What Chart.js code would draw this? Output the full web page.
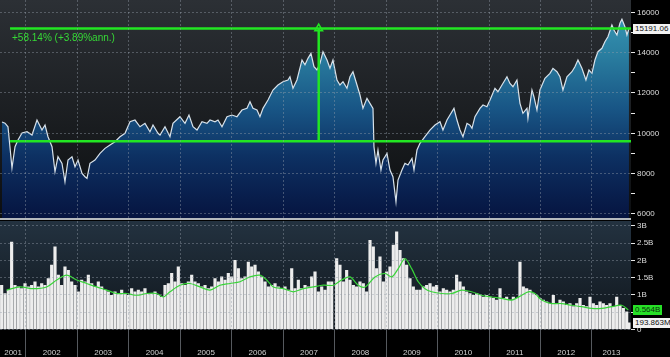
<!DOCTYPE html>
<html><head><meta charset="utf-8">
<script src="https://cdn.jsdelivr.net/npm/chart.js@4.4.1/dist/chart.umd.min.js"></script>
<style>
html,body{margin:0;padding:0;background:#000;}
#wrap{position:relative;width:670px;height:357px;overflow:hidden;background:#000;}
#cTop{position:absolute;left:0;top:0;}
#cBot{position:absolute;left:0;top:220px;}
#sep{position:absolute;left:0;top:218px;width:631px;height:2px;background:#b4b8bd;}
.lbl{position:absolute;font:8px "Liberation Sans",Arial,sans-serif;line-height:10px;height:10px;padding:0 2px;white-space:nowrap;}
#pct{position:absolute;font:10px "Liberation Sans",Arial,sans-serif;line-height:12px;color:#36d936;white-space:nowrap;}
</style>
</head><body>
<div id="wrap">
  <canvas id="cTop" width="670" height="218"></canvas>
  <div id="sep"></div>
  <canvas id="cBot" width="670" height="137"></canvas>
  <div id="pct">+58.14% (+3.89%ann.)</div>
  <div class="lbl" id="lastPx" style="background:#f2f2f2;color:#111;">15191.06</div>
  <div class="lbl" id="lastMa" style="background:#27e027;color:#0b300b;">0.564B</div>
  <div class="lbl" id="lastVol" style="background:#f2f2f2;color:#111;">193.863M</div>
</div>
<script>
// ---------- data ----------
const priceYears = [
 2001.534,2001.592,2001.650,2001.728,2001.787,2001.845,2001.923,2002.020,2002.117,
 2002.214,2002.311,2002.370,2002.428,2002.506,2002.564,2002.622,2002.700,2002.758,2002.817,2002.894,2002.953,
 2003.011,2003.089,2003.147,2003.186,2003.244,2003.341,2003.439,2003.536,2003.633,2003.730,2003.827,2003.925,
 2004.022,2004.119,2004.216,2004.313,2004.410,2004.469,2004.566,2004.605,2004.702,2004.799,2004.857,
 2004.993,2005.091,2005.168,2005.246,2005.324,2005.421,2005.518,2005.577,2005.674,2005.732,2005.810,2005.907,
 2006.004,2006.101,2006.198,2006.296,2006.354,2006.412,2006.490,2006.548,2006.607,2006.704,2006.801,2006.898,2006.995,
 2007.093,2007.131,2007.190,2007.267,2007.365,2007.423,2007.481,2007.539,2007.598,2007.656,2007.715,2007.773,2007.851,2007.909,2007.967,
 2008.045,2008.103,2008.162,2008.239,2008.298,2008.356,2008.434,2008.492,2008.550,2008.628,2008.686,2008.745,2008.764,2008.803,2008.842,2008.900,2008.939,
 2009.017,2009.075,2009.133,2009.192,2009.231,2009.308,2009.366,2009.425,2009.503,2009.542,2009.600,2009.658,2009.755,2009.852,2009.950,
 2010.047,2010.105,2010.183,2010.241,2010.319,2010.377,2010.436,2010.494,2010.572,2010.630,2010.669,2010.727,2010.824,2010.883,2010.960,
 2011.019,2011.116,2011.174,2011.252,2011.349,2011.407,2011.466,2011.543,2011.602,2011.660,2011.738,2011.757,2011.835,2011.873,2011.932,
 2011.990,2012.087,2012.185,2012.243,2012.321,2012.379,2012.437,2012.515,2012.612,2012.670,2012.729,2012.806,2012.884,2012.943,
 2013.001,2013.059,2013.118,2013.195,2013.253,2013.312,2013.389,2013.428,2013.487,2013.545,2013.584,2013.642,2013.681,2013.720
];
const priceValues = [
 10559,10500,10325,8277,9334,9666,10013,10078,9914,
 10658,10162,10410,9830,9334,8094,8838,8510,7597,8674,8838,8342,
 8674,8014,7846,7767,8510,8674,9007,9254,9418,9582,9830,9998,
 10574,10658,10325,10494,10078,10410,10000,9914,10325,9830,10494,
 10822,10494,10906,10325,10162,10574,10494,10658,10574,10658,10325,10822,
 10906,10822,11154,11238,11566,11238,11154,10822,11238,11650,12146,12394,12558,
 12642,12806,12230,12642,13634,13400,13718,13966,13302,13138,13470,14046,13634,13222,13634,
 12642,12394,12558,12230,12806,13054,12394,11898,11238,11734,11486,11238,9334,8510,9170,8178,8674,
 9007,8178,7846,6606,7682,8178,8510,8426,8758,8178,9170,9502,9830,10162,10410,
 10574,10162,10658,10906,11238,10658,10162,9830,10494,10400,10246,10822,11238,11402,11318,
 11650,12230,12062,12394,12806,12474,12310,12642,11486,10990,11238,10742,12146,11814,11154,
 12146,12723,12974,13222,13054,12806,12146,12806,13054,13302,13634,13222,12642,13138,
 12974,13634,14046,14214,14542,14790,15370,15122,14874,15454,15652,15286,14874,15191.06
];
const volYears = [
 2001.527,2001.592,2001.657,2001.721,2001.786,2001.851,2001.916,2001.981,2002.045,2002.110,
 2002.175,2002.240,2002.305,2002.369,2002.434,2002.499,2002.564,2002.629,2002.693,2002.758,
 2002.823,2002.888,2002.953,2003.017,2003.082,2003.147,2003.212,2003.277,2003.341,2003.406,
 2003.471,2003.536,2003.601,2003.665,2003.730,2003.795,2003.860,2003.925,2003.989,2004.054,
 2004.119,2004.184,2004.249,2004.313,2004.378,2004.443,2004.508,2004.573,2004.637,2004.702,
 2004.767,2004.832,2004.897,2004.961,2005.026,2005.091,2005.156,2005.221,2005.285,2005.350,
 2005.415,2005.480,2005.545,2005.609,2005.674,2005.739,2005.804,2005.869,2005.933,2005.998,
 2006.063,2006.128,2006.193,2006.257,2006.322,2006.387,2006.452,2006.517,2006.581,2006.646,
 2006.711,2006.776,2006.841,2006.905,2006.970,2007.035,2007.100,2007.165,2007.229,2007.294,
 2007.359,2007.424,2007.489,2007.553,2007.618,2007.683,2007.748,2007.813,2007.877,2007.942,
 2008.039,2008.103,2008.168,2008.233,2008.298,2008.363,2008.427,2008.492,2008.557,2008.622,
 2008.687,2008.751,2008.816,2008.881,2008.946,2009.011,2009.075,2009.140,2009.205,2009.270,
 2009.334,2009.399,2009.464,2009.529,2009.594,2009.659,2009.723,2009.788,2009.853,2009.918,
 2009.982,2010.047,2010.112,2010.177,2010.242,2010.306,2010.371,2010.436,2010.501,2010.566,
 2010.630,2010.695,2010.760,2010.825,2010.890,2010.954,2011.019,2011.084,2011.149,2011.214,
 2011.278,2011.343,2011.408,2011.473,2011.538,2011.602,2011.667,2011.732,2011.797,2011.862,
 2011.926,2011.991,2012.056,2012.121,2012.185,2012.250,2012.315,2012.380,2012.445,2012.510,
 2012.574,2012.639,2012.704,2012.769,2012.834,2012.898,2012.963,2013.028,2013.093,2013.158,
 2013.222,2013.287,2013.352,2013.417,2013.482,2013.546,2013.611,2013.676,2013.720
];
const volValues = [ // billions
 1.28,1.04,1.14,2.53,1.28,1.23,1.18,1.33,1.23,1.28,
 1.38,1.23,1.33,1.28,1.47,1.86,2.39,1.57,1.28,1.81,
 1.71,1.38,1.28,1.09,1.43,1.38,1.57,1.33,1.23,1.38,
 1.23,1.14,1.09,0.99,1.09,1.04,1.14,1.04,0.99,1.18,
 1.09,1.14,1.09,1.18,1.04,1.04,1.09,0.99,0.94,1.28,
 1.33,1.62,1.38,1.81,1.33,1.28,1.38,1.57,1.38,1.33,
 1.23,1.28,1.18,1.23,1.47,1.38,1.52,1.43,1.62,1.52,
 2.00,1.76,1.47,1.52,1.95,1.81,1.86,1.67,1.52,1.38,
 1.23,1.28,1.33,1.23,1.18,1.23,1.14,1.76,1.18,1.43,
 1.18,1.28,1.23,1.52,1.67,1.09,1.23,1.14,1.38,1.38,
 2.05,1.86,1.38,1.71,1.43,1.28,1.23,1.38,1.33,1.09,
 2.58,2.39,1.76,2.10,1.38,1.67,1.81,2.44,2.82,2.29,
 2.05,1.86,1.47,1.23,1.14,1.14,1.23,1.28,1.33,1.23,
 1.28,1.09,1.18,1.14,1.09,1.14,1.57,1.38,1.23,1.09,
 1.04,0.99,1.04,0.99,0.94,0.99,0.94,0.90,0.85,1.18,
 0.90,0.94,0.85,0.94,0.90,1.95,1.23,1.18,1.14,1.04,
 0.99,0.90,0.85,0.80,0.75,0.99,0.75,0.85,0.80,0.70,
 0.75,0.66,0.75,0.90,0.70,0.66,0.94,0.75,0.70,0.80,
 0.75,0.70,0.75,0.66,0.94,0.70,0.61,0.51,0.194
];
const maYears = [
 2001.625,2001.884,2002.143,2002.402,2002.597,2002.791,2002.986,2003.180,2003.374,2003.569,
 2003.763,2003.957,2004.152,2004.346,2004.541,2004.669,2004.799,2004.993,2005.188,2005.382,
 2005.577,2005.771,2005.965,2006.160,2006.354,2006.548,2006.678,2006.807,2007.002,2007.196,
 2007.390,2007.585,2007.779,2007.973,
 2008.136,2008.298,2008.459,2008.589,2008.784,2008.978,2009.108,2009.236,2009.366,2009.497,
 2009.625,2009.755,2009.885,2010.080,2010.274,2010.469,2010.663,2010.857,2011.052,2011.246,
 2011.440,2011.635,2011.763,2011.893,2012.023,2012.218,2012.412,2012.606,2012.801,2012.995,
 2013.190,2013.384,2013.578,2013.707
];
const maValues = [
 1.14,1.23,1.18,1.23,1.43,1.57,1.43,1.33,1.23,1.14,
 1.04,1.04,0.99,1.04,1.04,0.94,1.09,1.28,1.33,1.23,
 1.14,1.28,1.33,1.38,1.52,1.57,1.43,1.23,1.18,1.09,
 1.18,1.23,1.28,1.28,
 1.43,1.52,1.28,1.23,1.52,1.62,1.52,1.76,2.05,1.76,
 1.38,1.18,1.09,1.04,1.04,1.14,1.09,0.99,0.94,0.90,
 0.85,0.99,1.09,1.04,0.85,0.75,0.75,0.70,0.66,0.61,
 0.61,0.66,0.70,0.564
];
const highLevel = 15191.06;
const lowLevel = 9606.3;
const lineStartYear = 2001.69;
const arrowYear = 2007.69;
const lastVolume = 0.194;
const yearBounds = [2002,2003,2004,2005,2006,2007,2008,2009,2010,2011,2012,2013];
const yearLabelPos = [2001.75,2002.5,2003.5,2004.5,2005.5,2006.5,2007.5,2008.5,2009.5,2010.5,2011.5,2012.5,2013.38];
const yearLabels = ['2001','2002','2003','2004','2005','2006','2007','2008','2009','2010','2011','2012','2013'];
const priceTicks = [6000,7000,8000,9000,10000,11000,12000,13000,14000,15000,16000];
const volTicks = [0,0.5,1,1.5,2,2.5,3];
const volTickLabels = ['0','','1B','1.5B','2B','2.5B','3B'];

// ---------- styling ----------
const X_MIN = 2001.495, X_MAX = 2013.76;
const GREEN = '#22e622';
const GRID = 'rgba(150,160,172,0.42)';
const FONT = '"Liberation Sans", Arial, sans-serif';
Chart.defaults.font.family = FONT;

const bgPlugin = (top, bottom) => ({
  id: 'bg',
  beforeDraw(chart) {
    const {ctx, chartArea: a, width, height} = chart;
    ctx.save();
    ctx.fillStyle = '#000';
    ctx.fillRect(0, 0, width, height);
    const g = ctx.createLinearGradient(0, a.top, 0, a.bottom);
    g.addColorStop(0, top); g.addColorStop(1, bottom);
    ctx.fillStyle = g;
    ctx.fillRect(a.left, a.top, a.right - a.left, a.bottom - a.top);
    ctx.restore();
  }
});

function areaFill(context) {
  const {chart} = context;
  const a = chart.chartArea;
  if (!a) return 'rgba(30,90,130,1)';
  const g = chart.ctx.createLinearGradient(0, a.top, 0, a.bottom);
  g.addColorStop(0, '#3a9dbb');
  g.addColorStop(0.25, '#2a7ea0');
  g.addColorStop(0.5, '#185585');
  g.addColorStop(0.72, '#0d3062');
  g.addColorStop(1, '#061440');
  return g;
}

const setTicks = (arr) => (s) => { s.ticks = arr.map(v => ({value: v})); };
const noPad = (s) => { s.paddingLeft = 0; s.paddingRight = 0; s.paddingTop = 0; s.paddingBottom = 0; };

const topChart = new Chart(document.getElementById('cTop'), {
  type: 'line',
  data: { datasets: [
    { data: priceYears.map((x, i) => ({x, y: priceValues[i]})), borderColor: '#d8e2ea', borderWidth: 1.2,
      pointRadius: 0, fill: 'start', backgroundColor: areaFill, tension: 0, order: 10 },
    { data: [{x: lineStartYear, y: highLevel}, {x: X_MAX, y: highLevel}], borderColor: GREEN, borderWidth: 2.5, pointRadius: 0, fill: false, order: 1 },
    { data: [{x: lineStartYear, y: lowLevel}, {x: X_MAX, y: lowLevel}], borderColor: GREEN, borderWidth: 2.5, pointRadius: 0, fill: false, order: 1 },
    { data: [{x: arrowYear, y: lowLevel}, {x: arrowYear, y: highLevel}], borderColor: GREEN, borderWidth: 2.5, fill: false, order: 1,
      pointRadius: [0, 4.5], pointStyle: 'triangle', pointBorderColor: GREEN, pointBackgroundColor: 'rgba(0,0,0,0)', pointBorderWidth: 1.5 }
  ]},
  options: {
    responsive: false, animation: false, events: [],
    layout: {padding: 0, autoPadding: false},
    plugins: {legend: {display: false}, tooltip: {enabled: false}},
    scales: {
      x: { type: 'linear', min: X_MIN, max: X_MAX, offset: false,
        afterBuildTicks: setTicks(yearBounds),
        ticks: {display: false},
        grid: {color: GRID, drawTicks: false, z: 1},
        border: {display: false, dash: [2, 2]},
        afterFit: s => { s.height = 0; noPad(s); } },
      y: { type: 'linear', position: 'right', min: 5800, max: 16610,
        afterBuildTicks: setTicks(priceTicks),
        ticks: {color: '#dcdcdc', font: {size: 8}, padding: 2, callback: v => (v % 2000 === 0 ? String(v) : '')},
        grid: {color: c => (c.tick && c.tick.value % 2000 === 0 ? GRID : 'rgba(0,0,0,0)'), tickColor: '#e6e6e6', tickLength: 4, z: 1},
        border: {display: false, dash: [2, 2]},
        afterFit: s => { s.width = 39; noPad(s); } }
    }
  },
  plugins: [bgPlugin('#2c3035', '#0c0e10')]
});

const botChart = new Chart(document.getElementById('cBot'), {
  type: 'bar',
  data: { datasets: [
    { type: 'line', data: maYears.map((x, i) => ({x, y: maValues[i]})), borderColor: '#38d438', borderWidth: 1.2,
      pointRadius: 0, tension: 0.3, order: 0 },
    { type: 'bar', data: volYears.map((x, i) => ({x, y: volValues[i]})), backgroundColor: '#ededed',
      barThickness: 2.5, order: 1 }
  ]},
  options: {
    responsive: false, animation: false, events: [],
    layout: {padding: {top: 1, left: 0, right: 0, bottom: 0}, autoPadding: false},
    plugins: {legend: {display: false}, tooltip: {enabled: false}},
    scales: {
      x: { type: 'linear', min: X_MIN, max: X_MAX, offset: false, position: 'bottom',
        afterBuildTicks: setTicks(yearBounds),
        ticks: {display: false},
        grid: {color: GRID, offset: false, drawTicks: true, tickLength: 28, tickColor: '#55595e', z: 1},
        border: {display: false, dash: [2, 2]},
        afterFit: s => { s.height = 0; noPad(s); } },
      xl: { type: 'linear', min: X_MIN, max: X_MAX, offset: false, position: 'bottom',
        afterBuildTicks: setTicks(yearLabelPos),
        ticks: {color: '#cfcfcf', font: {size: 8}, padding: 18, autoSkip: false, maxRotation: 0,
          callback: (v, i) => yearLabels[i]},
        grid: {display: false, drawTicks: false},
        border: {display: false},
        afterFit: s => { s.height = 27.5; noPad(s); } },
      y: { type: 'linear', position: 'right', min: 0, max: 3.136,
        afterBuildTicks: setTicks(volTicks),
        ticks: {color: '#dcdcdc', font: {size: 8}, padding: 2, callback: (v, i) => volTickLabels[i]},
        grid: {color: GRID, tickColor: '#e6e6e6', tickLength: 4, z: 1},
        border: {display: false, dash: [2, 2]},
        afterFit: s => { s.width = 39; noPad(s); } }
    }
  },
  plugins: [bgPlugin('#233240', '#10161c')]
});

// ---------- value labels placed from the scales ----------
const tY = topChart.scales.y, tX = topChart.scales.x;
const bY = botChart.scales.y;
const rightEdge = tY.left + 2;
const pct = document.getElementById('pct');
pct.style.left = (tX.getPixelForValue(lineStartYear) + 2) + 'px';
pct.style.top = (tY.getPixelForValue(highLevel) + 3) + 'px';
const lp = document.getElementById('lastPx');
lp.style.left = rightEdge + 'px';
lp.style.top = (tY.getPixelForValue(highLevel) - 5) + 'px';
const lm = document.getElementById('lastMa');
lm.style.left = rightEdge + 'px';
lm.style.top = (220 + bY.getPixelForValue(maValues[maValues.length - 1]) - 5) + 'px';
const lv = document.getElementById('lastVol');
lv.style.left = rightEdge + 'px';
lv.style.top = (220 + bY.getPixelForValue(lastVolume) - 5) + 'px';
</script>
</body></html>
